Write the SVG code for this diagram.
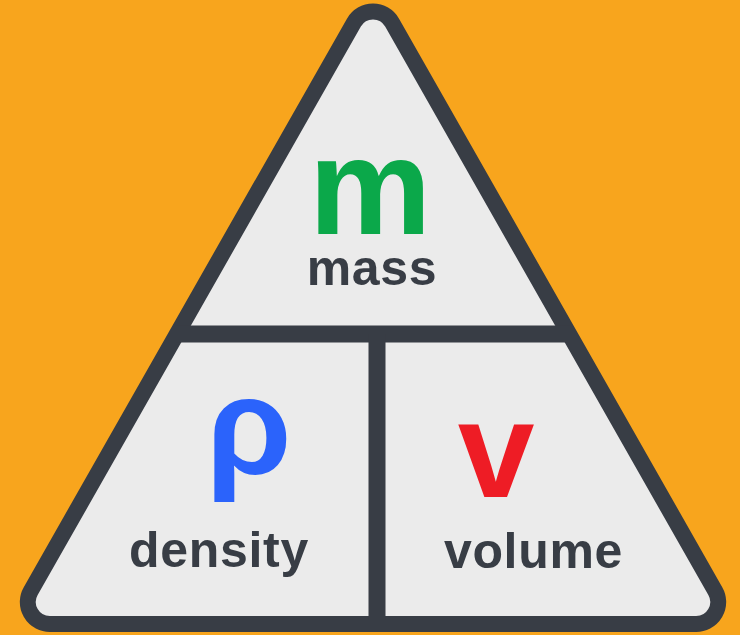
<svg xmlns="http://www.w3.org/2000/svg" width="740" height="635" viewBox="0 0 740 635">
  <style>
    .frame { fill: #ebebeb; stroke: #383d45; stroke-width: 16; stroke-linejoin: round; }
    .bar { stroke: #383d45; stroke-width: 17; }
    .sym { font-family: "Liberation Sans", Arial, sans-serif; font-weight: bold; font-size: 138px; text-anchor: middle; }
    .lbl { font-family: "Liberation Sans", Arial, sans-serif; font-weight: bold; font-size: 50px; letter-spacing: 0.7px; fill: #383d45; text-anchor: middle; }
  </style>
  <rect x="0" y="0" width="740" height="635" fill="#f8a51d"/>
  <g id="triangle">
    <path class="frame" d="M 353.9 22.6 A 22 22 0 0 1 392.1 22.6 L 715.3 591.1 A 22 22 0 0 1 696.2 624 L 49.8 624 A 22 22 0 0 1 30.7 591.1 Z"/>
  </g>
  <g id="dividers">
    <line class="bar" x1="176" y1="334" x2="570" y2="334"/>
    <line class="bar" x1="377" y1="334" x2="377" y2="620" stroke-width="16"/>
  </g>
  <g id="mass">
    <text class="sym" x="370" y="234" fill="#0ba84a">m</text>
    <text class="lbl" x="372" y="285">mass</text>
  </g>
  <g id="density">
    <text class="sym" x="249" y="474" fill="#2b63fb">ρ</text>
    <text class="lbl" x="219" y="567">density</text>
  </g>
  <g id="volume">
    <text class="sym" x="496" y="497" fill="#ee1c25" font-size="142">v</text>
    <text class="lbl" x="533.5" y="568">volume</text>
  </g>
</svg>
